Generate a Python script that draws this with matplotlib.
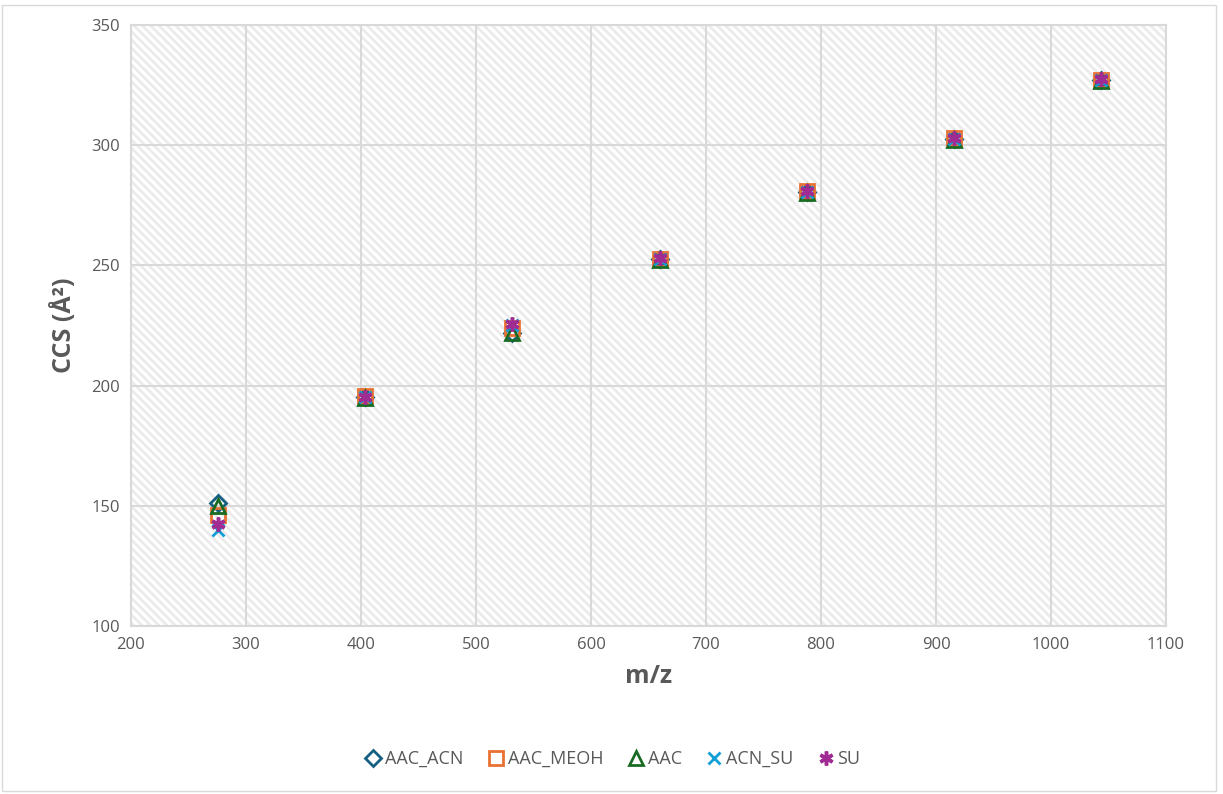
import matplotlib.pyplot as plt
from matplotlib.patches import Rectangle

plt.rcParams['font.family'] = ['Open Sans', 'DejaVu Sans']
plt.rcParams['hatch.linewidth'] = 2.0

# m/z of the ions and CCS values for each condition
mz = [275.6, 403.6, 531.6, 659.6, 787.6, 915.6, 1043.6]
aac_acn = [151.0, 195.3, 222.0, 252.6, 280.5, 302.6, 327.0]
aac_meoh = [146.0, 195.5, 224.0, 252.8, 280.8, 302.8, 327.3]
aac = [150.0, 194.8, 221.8, 252.2, 280.0, 302.2, 326.8]
acn_su = [140.0, 195.2, 225.2, 252.7, 280.6, 302.7, 327.1]
su = [142.5, 195.4, 225.5, 253.0, 281.0, 303.0, 327.4]

series = [
    ('AAC_ACN', aac_acn, 'D', '#156082', 8),
    ('AAC_MEOH', aac_meoh, 's', '#e97132', 10),
    ('AAC', aac, '^', '#196b24', 10),
    ('ACN_SU', acn_su, 'x', '#0f9ed5', 9),
    ('SU', su, (6, 2, 0), '#a02b93', 10),
]

fig = plt.figure(figsize=(12.23, 7.94), dpi=100)
ax = fig.add_axes([0.1071, 0.2116, 0.8463, 0.7569])

# light diagonal pattern fill behind the plot area
ax.add_patch(Rectangle((0, 0), 1, 1, transform=ax.transAxes, facecolor='white',
                       edgecolor='#ebebeb', linewidth=0, hatch='\\\\\\\\', zorder=0))

for name, vals, mk, col, ms in series:
    if mk == 'x':
        ax.plot(mz, vals, linestyle='none', marker=mk, markersize=ms,
                color=col, markeredgewidth=2, label=name, zorder=3)
    elif mk == (6, 2, 0):
        ax.plot(mz, vals, linestyle='none', marker=mk, markersize=ms,
                color=col, markeredgewidth=2.5, label=name, zorder=3)
    else:
        ax.plot(mz, vals, linestyle='none', marker=mk, markersize=ms,
                markerfacecolor='none', markeredgecolor=col, markeredgewidth=2,
                label=name, zorder=3)

ax.set_xlim(200, 1100)
ax.set_ylim(100, 350)
ax.set_xticks(range(200, 1101, 100))
ax.set_yticks(range(100, 351, 50))
ax.grid(True, color='#d9d9d9', linewidth=1.5, zorder=1)
ax.set_axisbelow(True)
for s in ax.spines.values():
    s.set_color('#d9d9d9')
    s.set_linewidth(1.5)
ax.tick_params(length=0, labelsize=12, colors='#595959', pad=8)

ax.set_xlabel('m/z', fontsize=18, fontweight='bold', color='#595959', labelpad=8)
ax.set_ylabel('CCS (Å²)', fontsize=18, fontweight='bold', color='#595959', labelpad=10)

leg = fig.legend(loc='center', bbox_to_anchor=(0.5, 0.044), ncol=5, frameon=False,
                 fontsize=13, handletextpad=0.05, columnspacing=1.2,
                 handlelength=1.2)
for t in leg.get_texts():
    t.set_color('#595959')

# chart outline
fig.add_artist(Rectangle((0.002, 0.004), 0.992, 0.99, transform=fig.transFigure,
                         fill=False, edgecolor='#d9d9d9', linewidth=1))

fig.savefig('out.png', dpi=100)
